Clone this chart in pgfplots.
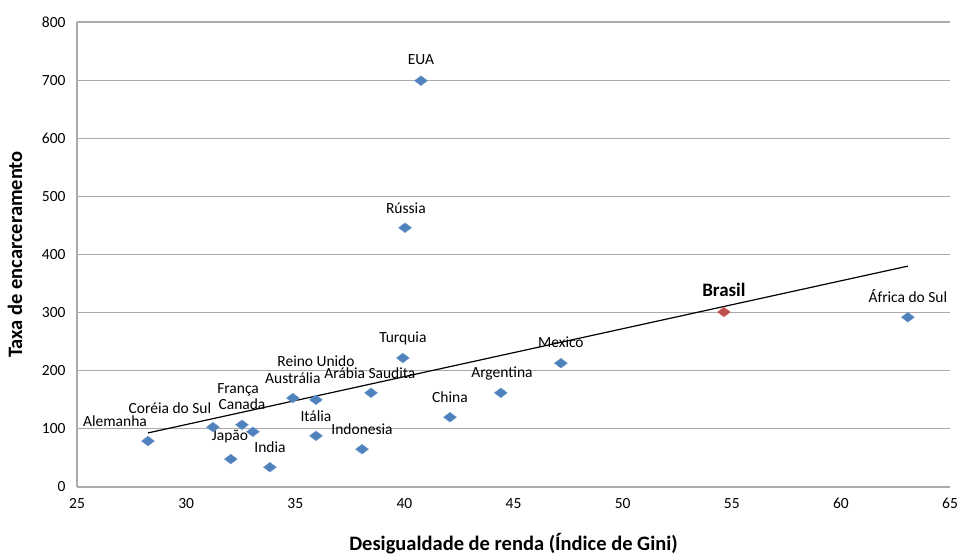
\documentclass[border=0pt]{standalone}
\usepackage{fontspec}
\setmainfont{Carlito}
\usepackage{pgfplots}
\pgfplotsset{compat=1.18}
\definecolor{ptblue}{RGB}{79,129,189}
\definecolor{ptred}{RGB}{192,80,77}
\definecolor{gridgray}{RGB}{170,170,170}
\begin{document}
\begin{tikzpicture}
\begin{axis}[
  scale only axis,
  width=873pt, height=465pt,
  xmin=25, xmax=65, ymin=0, ymax=800,
  xtick={25,30,...,65}, ytick={0,100,...,800},
  axis x line=bottom, axis y line=left,
  axis line style={-, draw=gridgray, line width=1.2pt},
  ymajorgrids, grid style={gridgray, line width=1.1pt},
  major tick length=0pt,
  tick label style={font=\fontsize{15.5}{17}\selectfont},
  /pgf/number format/assume math mode=true,
  xticklabel style={yshift=-8pt},
  yticklabel style={xshift=-8pt},
  xlabel={\textbf{Desigualdade de renda (Índice de Gini)}},
  ylabel={\textbf{Taxa de encarceramento}},
  label style={font=\fontsize{20.5}{23}\selectfont},
  xlabel style={at={(axis description cs:0.5,0)}, anchor=center, yshift=-57pt},
  ylabel style={at={(axis description cs:0,0.5)}, anchor=center, xshift=0pt, yshift=62pt},
  clip=false,
]
\addplot[no marks, black, line width=1.2pt] coordinates {(28.25,93) (63.07,380)};
\addplot[only marks, mark=diamond*, mark size=6.5pt, mark options={rotate=90, fill=ptblue, draw=ptblue!80!white}] coordinates {
(28.25,79) (31.23,103) (32.05,48) (32.56,107) (33.06,95) (33.84,34)
(34.89,153) (35.95,150) (35.95,88) (38.47,162) (38.06,65) (39.93,222)
(40.03,446) (40.76,699) (42.09,120) (44.42,162) (47.17,213) (63.07,292)
};
\addplot[only marks, mark=diamond*, mark size=6.5pt, mark options={rotate=90, fill=ptred, draw=ptred!80!white}] coordinates {(54.64,301)};
\begin{scope}[every node/.style={font=\fontsize{15.5}{17}\selectfont, inner sep=0pt}]
\node at (axis cs:40.76,735) {EUA};
\node at (axis cs:40.07,480) {Rússia};
\node at (axis cs:39.93,256) {Turquia};
\node at (axis cs:35.95,217) {Reino Unido};
\node at (axis cs:38.42,196) {Arábia Saudita};
\node at (axis cs:34.89,188) {Austrália};
\node at (axis cs:32.38,167) {França};
\node at (axis cs:32.56,143) {Canada};
\node at (axis cs:29.26,136) {Coréia do Sul};
\node at (axis cs:26.74,114) {Alemanha};
\node at (axis cs:32.01,86) {Japão};
\node at (axis cs:35.95,122) {Itália};
\node at (axis cs:33.84,69) {India};
\node at (axis cs:38.06,100) {Indonesia};
\node at (axis cs:42.09,155) {China};
\node at (axis cs:44.47,196) {Argentina};
\node at (axis cs:47.17,249) {Mexico};
\node at (axis cs:63.07,329) {África do Sul};
\node[font=\fontsize{19}{21}\selectfont\bfseries] at (axis cs:54.64,339) {Brasil};
\end{scope}
\end{axis}
\pgfresetboundingbox
\path (current axis.south west) ++(-77pt,-69pt) coordinate (bl);
\path (current axis.north east) ++(10pt,22pt) coordinate (tr);
\useasboundingbox (bl) rectangle (tr);
\end{tikzpicture}
\end{document}
